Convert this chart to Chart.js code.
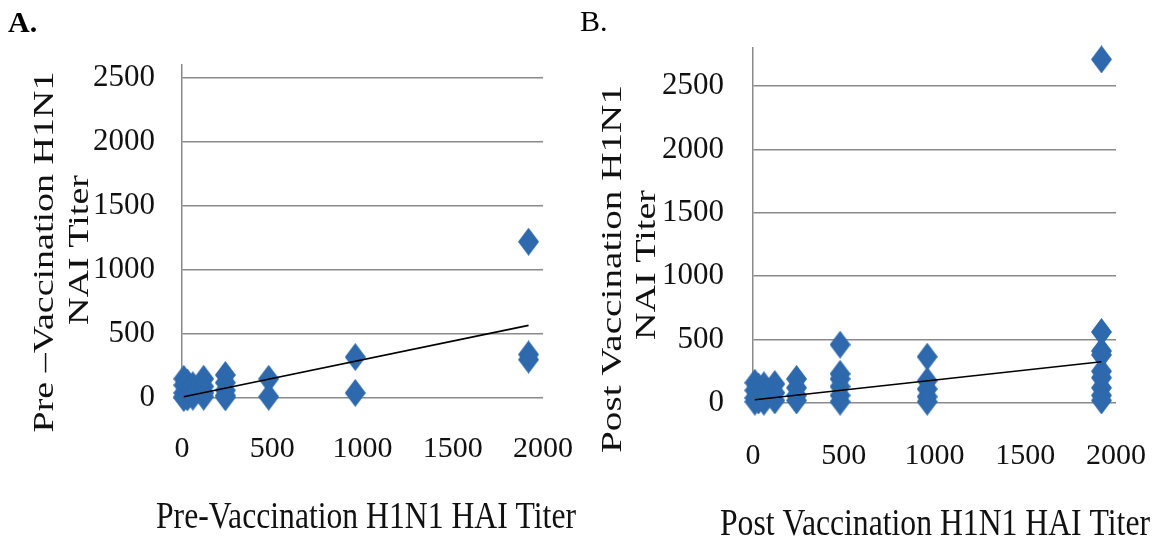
<!DOCTYPE html>
<html><head><meta charset="utf-8">
<script src="https://cdn.jsdelivr.net/npm/chart.js@4/dist/chart.umd.min.js"></script>
<style>
html,body{margin:0;padding:0;background:#fff;width:1161px;height:543px;overflow:hidden}
#ca{position:absolute;left:0;top:0}
#cb{position:absolute;left:580px;top:0}
</style></head><body>
<canvas id="ca" width="580" height="543"></canvas>
<canvas id="cb" width="581" height="543"></canvas>
<script>
// ---------- data ----------
const preHAI = [10,10,10,10,10, 30,30,30,30, 60,60,60, 120,120,120,120, 240,240,240,240,240, 480,480, 960,960, 1920,1920,1920];
const preNAI = [150,100,40,10,0, 120,60,20,5, 100,40,10, 150,90,40,10, 180,120,60,20,5, 150,10, 320,40, 1220,340,300];
const preTrendX = [10, 1920];
const preTrendY = [10, 567];

const postHAI = [10,10,10,10, 30,30,30, 60,60,60,60, 120,120,120, 240,240,240,240, 480,480,480,480,480,480, 960,960,960,960,960, 1920,1920,1920,1920,1920,1920,1920,1920,1920];
const postNAI = [160,100,40,10, 130,60,20, 140,80,30,10, 150,80,20, 190,120,60,20, 460,230,190,130,60,10, 365,175,110,50,10, 2710,560,410,380,250,200,120,60,20];
const postTrendX = [10, 1920];
const postTrendY = [26, 325];

const xTickValues = [0, 500, 1000, 1500, 2000];
const yTickValues = [0, 500, 1000, 1500, 2000, 2500];

const panelA = {letter: 'A.', yTitle1: 'Pre –Vaccination H1N1', yTitle2: 'NAI Titer', xTitle: 'Pre-Vaccination H1N1 HAI Titer'};
const panelB = {letter: 'B.', yTitle1: 'Post Vaccination H1N1', yTitle2: 'NAI Titer', xTitle: 'Post Vaccination H1N1 HAI Titer'};

// ---------- helpers ----------
const BLUE = '#2D69AC';
const GRID = '#8a8a8a';
const SERIF = 'Liberation Serif';

function diamond(w, h, color) {
  const c = document.createElement('canvas');
  c.width = w; c.height = h;
  const g = c.getContext('2d');
  g.fillStyle = color;
  g.beginPath();
  g.moveTo(w / 2, 0); g.lineTo(w, h / 2); g.lineTo(w / 2, h); g.lineTo(0, h / 2);
  g.closePath(); g.fill();
  return c;
}
const marker = diamond(21, 28, BLUE);

function pts(xs, ys) { return xs.map((x, i) => ({x: x, y: ys[i]})); }

const stretchText = {
  id: 'stretchText',
  afterDraw(chart, args, opts) {
    const ctx = chart.ctx;
    (opts.items || []).forEach(it => {
      ctx.save();
      ctx.font = it.font;
      ctx.fillStyle = it.color || '#111';
      ctx.textAlign = it.align || 'center';
      ctx.textBaseline = it.baseline || 'middle';
      ctx.translate(it.x, it.y);
      if (it.rot) ctx.rotate(it.rot * Math.PI / 180);
      if (it.width) {
        const w = ctx.measureText(it.text).width;
        ctx.scale(it.width / w, 1);
      }
      ctx.fillText(it.text, 0, 0);
      ctx.restore();
    });
  }
};

function makeChart(id, xs, ys, tx, ty, cfg) {
  return new Chart(document.getElementById(id), {
    type: 'scatter',
    data: {
      datasets: [
        {data: pts(xs, ys), pointStyle: marker, pointRadius: 10, pointHoverRadius: 10,
         backgroundColor: BLUE, borderColor: BLUE, clip: false, order: 2},
        {data: pts(tx, ty), showLine: true, borderColor: '#000', borderWidth: 1.6,
         pointRadius: 0, pointHoverRadius: 0, fill: false, clip: false, order: 1}
      ]
    },
    options: {
      responsive: false, animation: false, devicePixelRatio: 1,
      layout: {padding: cfg.padding},
      plugins: {legend: {display: false}, tooltip: {enabled: false},
        stretchText: {items: cfg.items}},
      scales: {
        x: {
          type: 'linear', min: 0, max: 2000,
          afterBuildTicks: s => { s.ticks = xTickValues.map(v => ({value: v})); },
          afterFit: s => { s.height = cfg.xHeight; s.paddingLeft = 0; s.paddingRight = 0; },
          grid: {display: false, drawTicks: false},
          border: {display: false},
          ticks: {color: '#111', padding: cfg.xPad, maxRotation: 0,
            callback: v => String(v),
            font: {family: SERIF, size: 30}}
        },
        y: {
          type: 'linear', min: 0, max: cfg.yMax,
          afterBuildTicks: s => { s.ticks = yTickValues.map(v => ({value: v})); },
          afterFit: s => { s.width = cfg.yWidth; s.paddingTop = 0; s.paddingBottom = 0; },
          grid: {display: true, drawTicks: false, color: GRID, lineWidth: 1.5},
          border: {display: true, color: GRID, width: 1.5},
          ticks: {color: '#111', padding: cfg.yPad,
            callback: v => String(v),
            font: {family: SERIF, size: 31}}
        }
      }
    },
    plugins: [stretchText]
  });
}

makeChart('ca', preHAI, preNAI, preTrendX, preTrendY, {
  padding: {left: 0, right: 37, top: 65, bottom: 0},
  xHeight: 145, yWidth: 182, xPad: 33, yPad: 27, yMax: 2600,
  items: [
    {text: panelA.letter, x: 8, y: 32, font: 'bold 30px ' + SERIF, align: 'left', baseline: 'alphabetic', color: '#000'},
    {text: panelA.yTitle1, x: 45, y: 252, rot: -90, font: '30px ' + SERIF, width: 361},
    {text: panelA.yTitle2, x: 80, y: 250, rot: -90, font: '30px ' + SERIF, width: 150},
    {text: panelA.xTitle, x: 366, y: 518, font: '38px ' + SERIF, width: 420}
  ]
});

makeChart('cb', postHAI, postNAI, postTrendX, postTrendY, {
  padding: {left: 0, right: 45, top: 48, bottom: 0},
  xHeight: 140, yWidth: 173, xPad: 35, yPad: 29, yMax: 2800,
  items: [
    {text: panelB.letter, x: 0, y: 31, font: '30px ' + SERIF, align: 'left', baseline: 'alphabetic', color: '#000'},
    {text: panelB.yTitle1, x: 33, y: 269, rot: -90, font: '30px ' + SERIF, width: 368},
    {text: panelB.yTitle2, x: 67, y: 265, rot: -90, font: '30px ' + SERIF, width: 150},
    {text: panelB.xTitle, x: 355, y: 525, font: '38px ' + SERIF, width: 430}
  ]
});
</script>
</body></html>
